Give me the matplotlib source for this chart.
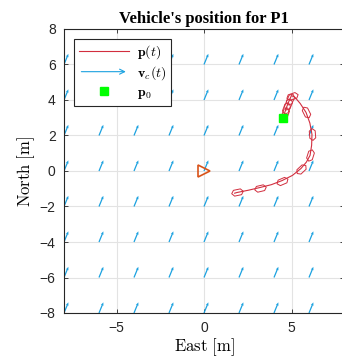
import numpy as np
import matplotlib
matplotlib.use('Agg')
import matplotlib.pyplot as plt
from matplotlib.markers import MarkerStyle
from matplotlib.path import Path
from matplotlib.transforms import Affine2D
from matplotlib.lines import Line2D
from matplotlib.patches import FancyArrowPatch
from matplotlib.legend_handler import HandlerBase

plt.rcParams['mathtext.fontset'] = 'cm'
plt.rcParams['font.family'] = ['Liberation Sans', 'DejaVu Sans']

# trajectory p(t) [m]
path_x = [4.50, 4.60, 4.70, 4.80, 4.90, 5.00, 5.20, 5.50, 5.83, 6.05, 6.17, 6.15, 6.06,
          5.85, 5.54, 5.05, 4.46, 3.85, 3.20, 2.55, 1.89, 1.75]
path_y = [3.00, 3.25, 3.55, 3.80, 4.05, 4.25, 4.15, 3.80, 3.30, 2.70, 2.06, 1.45, 0.88,
          0.50, 0.14, -0.25, -0.54, -0.77, -0.93, -1.08, -1.21, -1.25]
# samples where the vehicle outline is drawn
marker_idx = [1, 2, 3, 4, 5, 8, 10, 12, 14, 16, 18, 20]

p0 = (4.5, 3.0)
start_mark = (0.0, 0.0)

# current field v_c
grid_vals = np.arange(-8, 9, 2)
vc_u = 0.25
vc_v = 0.6

red = '#d22e3e'
cyan = '#1ca2e0'

fig = plt.figure(figsize=(3.42, 3.61), dpi=100)
ax = fig.add_axes([64 / 342, 48 / 361, 280 / 342, 284 / 361])

gx, gy = np.meshgrid(grid_vals, grid_vals)
ax.quiver(gx, gy, np.full(gx.shape, vc_u), np.full(gy.shape, vc_v),
          angles='xy', scale_units='xy', scale=1, color=cyan,
          width=0.0045, headwidth=2.2, headlength=2.6, headaxislength=2.4, zorder=2)

ax.plot(path_x, path_y, color=red, lw=0.8, zorder=3)

hull = Path([(-1, 0), (-0.6, -0.5), (0.6, -0.5), (1, 0), (0.6, 0.5), (-0.6, 0.5), (-1, 0)],
            closed=True)
px = np.array(path_x)
py = np.array(path_y)
for i in marker_idx:
    j0 = max(i - 1, 0)
    j1 = min(i + 1, len(px) - 1)
    ang = np.degrees(np.arctan2(py[j1] - py[j0], px[j1] - px[j0]))
    ms = MarkerStyle(hull, transform=Affine2D().rotate_deg(ang))
    ax.plot(px[i], py[i], marker=ms, markersize=8.5, mfc='none', mec=red, mew=0.7, ls='none',
            zorder=4)

ax.plot(p0[0], p0[1], 's', color='#00ff00', markersize=6, zorder=5)
ax.plot(start_mark[0], start_mark[1], '>', mfc='none', mec='#d95319', mew=1.2,
        markersize=8, zorder=5)

ax.set_xlim(-8, 8)
ax.set_ylim(-8, 8)
ax.set_xticks([-5, 0, 5])
ax.set_yticks(np.arange(-8, 9, 2))
ax.grid(True, color='#e3e3e3', lw=0.8)
ax.set_axisbelow(True)
ax.tick_params(direction='in', length=3, width=0.6, labelsize=10, top=True, right=True,
               colors='#262626', pad=6)
for s in ax.spines.values():
    s.set_color('#262626')
    s.set_linewidth(0.8)

ax.set_xlabel(r'$\mathrm{East\ [m]}$', fontsize=12, labelpad=1)
ax.set_ylabel(r'$\mathrm{North\ [m]}$', fontsize=12, labelpad=2)
ax.set_title("Vehicle's position for P1", fontsize=12, fontweight='bold',
             family='Liberation Serif', pad=4)


class ArrowHandler(HandlerBase):
    def create_artists(self, legend, orig_handle, xdescent, ydescent, width, height,
                       fontsize, trans):
        a = FancyArrowPatch((-xdescent, height / 2 - ydescent),
                            (width - xdescent, height / 2 - ydescent),
                            arrowstyle='->', mutation_scale=9, color=cyan, lw=0.8,
                            transform=trans)
        return [a]


h_path = Line2D([], [], color=red, lw=0.8)
h_vc = FancyArrowPatch((0, 0), (1, 0))
h_p0 = Line2D([], [], marker='s', color='#00ff00', ls='none', markersize=6)
leg = ax.legend([h_path, h_vc, h_p0],
                [r'$\mathbf{p}(t)$', r'$\mathbf{v}_c(t)$', r'$\mathbf{p}_0$'],
                handler_map={FancyArrowPatch: ArrowHandler()},
                loc='upper left', fontsize=10, handlelength=3.6, borderaxespad=0.7,
                fancybox=False, framealpha=1, edgecolor='#262626', labelspacing=0.2,
                borderpad=0.35, handletextpad=0.6)
leg.get_frame().set_linewidth(0.8)

fig.savefig('out.png', dpi=100)
